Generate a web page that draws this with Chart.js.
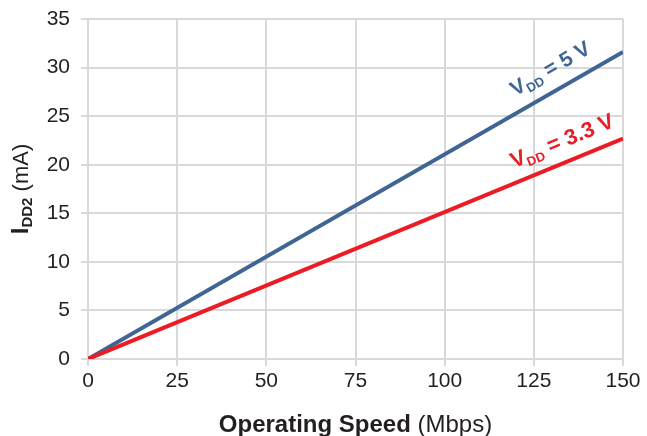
<!DOCTYPE html>
<html lang="en">
<head>
    <meta charset="UTF-8">
    <title>IDD2 vs Operating Speed</title>
    <script src="https://cdn.jsdelivr.net/npm/chart.js"></script>
    <style>
        * { margin: 0; padding: 0; box-sizing: border-box; }
        body { background: white; }
        .wrap { width: 647px; height: 436px; position: relative; }
    </style>
</head>
<body>
    <div class="wrap">
        <canvas id="chart"></canvas>
    </div>

    <script>
        // values
        const speeds = [0, 150];
        const idd5V = [0, 31.6];
        const idd33V = [0, 22.7];
        const xTicks = [0, 25, 50, 75, 100, 125, 150];
        const yTicks = [0, 5, 10, 15, 20, 25, 30, 35];

        const FONT = '"Liberation Sans", Arial, sans-serif';
        const TEXT = '#231f20';
        const GRID = '#d9d9d9';
        const BLUE = '#3f6594';
        const RED = '#ec1c24';

        const toPoints = (xs, ys) => xs.map((x, i) => ({ x: x, y: ys[i] }));

        // draw text made of pieces (bold / subscript) starting at 0,0
        function drawRich(ctx, parts) {
            let x = 0;
            parts.forEach(p => {
                ctx.font = (p.bold ? 'bold ' : '') + p.size + 'px ' + FONT;
                ctx.fillText(p.text, x, p.dy || 0);
                x += ctx.measureText(p.text).width;
            });
            return x;
        }
        function richWidth(ctx, parts) {
            let w = 0;
            parts.forEach(p => {
                ctx.font = (p.bold ? 'bold ' : '') + p.size + 'px ' + FONT;
                w += ctx.measureText(p.text).width;
            });
            return w;
        }

        const lineLabels = [
            { ds: 0, at: 120.9, off: 14, size: 22, color: RED, value: ' = 3.3 V' },
            { ds: 1, at: 121.9, off: 15, size: 21, color: BLUE, value: ' = 5 V' }
        ];

        const labelPlugin = {
            id: 'labels',
            afterDraw(chart) {
                const ctx = chart.ctx;
                const xs = chart.scales.x, ys = chart.scales.y;
                const area = chart.chartArea;

                // labels along the lines
                lineLabels.forEach(l => {
                    const data = chart.data.datasets[l.ds].data;
                    const a = data[0], b = data[data.length - 1];
                    const ax = xs.getPixelForValue(a.x), ay = ys.getPixelForValue(a.y);
                    const bx = xs.getPixelForValue(b.x), by = ys.getPixelForValue(b.y);
                    const ang = Math.atan2(by - ay, bx - ax);
                    const yv = a.y + (b.y - a.y) * (l.at - a.x) / (b.x - a.x);
                    ctx.save();
                    ctx.translate(xs.getPixelForValue(l.at), ys.getPixelForValue(yv));
                    ctx.rotate(ang);
                    ctx.fillStyle = l.color;
                    ctx.textBaseline = 'alphabetic';
                    ctx.translate(0, -l.off);
                    drawRich(ctx, [
                        { text: 'V', size: l.size, bold: true },
                        { text: 'DD', size: Math.round(l.size * 0.6), bold: true, dy: 4 },
                        { text: l.value, size: l.size, bold: true }
                    ]);
                    ctx.restore();
                });

                // x axis title
                const xt = [
                    { text: 'Operating Speed', size: 24, bold: true },
                    { text: ' (Mbps)', size: 24 }
                ];
                ctx.save();
                ctx.fillStyle = TEXT;
                ctx.textBaseline = 'alphabetic';
                const xw = richWidth(ctx, xt);
                ctx.translate((area.left + area.right) / 2 - xw / 2, 432);
                drawRich(ctx, xt);
                ctx.restore();

                // y axis title
                const yt = [
                    { text: 'I', size: 24, bold: true },
                    { text: 'DD2', size: 15, bold: true, dy: 4 },
                    { text: ' (mA)', size: 22 }
                ];
                ctx.save();
                ctx.fillStyle = TEXT;
                ctx.textBaseline = 'alphabetic';
                const yw = richWidth(ctx, yt);
                ctx.translate(28, (area.top + area.bottom) / 2 + yw / 2);
                ctx.rotate(-Math.PI / 2);
                drawRich(ctx, yt);
                ctx.restore();
            }
        };

        new Chart(document.getElementById('chart'), {
            type: 'scatter',
            data: {
                datasets: [
                    {
                        label: 'VDD = 3.3 V',
                        data: toPoints(speeds, idd33V),
                        borderColor: RED,
                        backgroundColor: RED,
                        borderWidth: 4,
                        showLine: true,
                        pointRadius: 0
                    },
                    {
                        label: 'VDD = 5 V',
                        data: toPoints(speeds, idd5V),
                        borderColor: BLUE,
                        backgroundColor: BLUE,
                        borderWidth: 4,
                        showLine: true,
                        pointRadius: 0
                    }
                ]
            },
            options: {
                responsive: true,
                maintainAspectRatio: false,
                animation: false,
                layout: { padding: { top: 19, right: 24, left: 0, bottom: 0 } },
                plugins: {
                    legend: { display: false },
                    tooltip: { enabled: false }
                },
                scales: {
                    x: {
                        type: 'linear',
                        min: 0,
                        max: 150,
                        afterBuildTicks: s => { s.ticks = xTicks.map(v => ({ value: v })); },
                        afterFit: s => { s.height = 77; s.paddingLeft = 0; s.paddingRight = 0; },
                        grid: { color: GRID, lineWidth: 2, tickLength: 7, tickColor: GRID },
                        border: { color: GRID, width: 2 },
                        ticks: { color: TEXT, font: { family: FONT, size: 21 }, padding: 3, maxRotation: 0 }
                    },
                    y: {
                        min: 0,
                        max: 35,
                        afterBuildTicks: s => { s.ticks = yTicks.map(v => ({ value: v })); },
                        afterFit: s => { s.width = 88; s.paddingTop = 0; s.paddingBottom = 0; },
                        grid: { color: GRID, lineWidth: 2, tickLength: 7, tickColor: GRID },
                        border: { color: GRID, width: 2 },
                        ticks: { color: TEXT, font: { family: FONT, size: 21 }, padding: 11 }
                    }
                }
            },
            plugins: [labelPlugin]
        });
    </script>
</body>
</html>
